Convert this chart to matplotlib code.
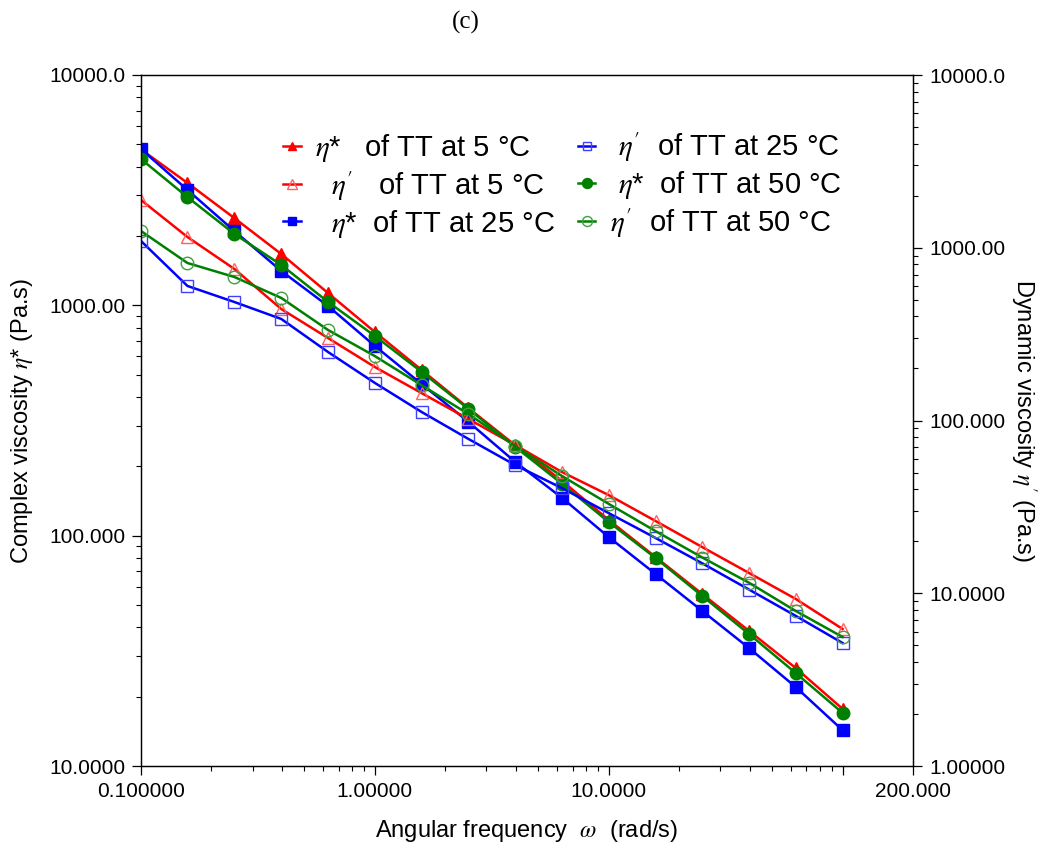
import matplotlib
matplotlib.use("Agg")
import matplotlib.pyplot as plt
from matplotlib.ticker import FixedLocator, FixedFormatter, NullFormatter
import numpy as np

plt.rcParams['font.family'] = ['Liberation Sans', 'DejaVu Sans']
plt.rcParams['mathtext.fontset'] = 'stix'

# Angular frequency (rad/s)
freq = [0.1, 0.158, 0.251, 0.398, 0.631, 1.0, 1.585, 2.512, 3.981, 6.31,
        10.0, 15.85, 25.12, 39.81, 63.1, 100.0]

# Complex viscosity eta* (Pa.s) - left axis
eta_star_5 = [4750, 3400, 2390, 1670, 1130, 766, 524, 358, 247, 173,
              117, 80.8, 55.8, 38.6, 26.6, 17.7]
eta_star_25 = [4770, 3170, 2100, 1410, 993, 666, 455, 312, 209, 146,
               98.6, 68.2, 47.1, 32.5, 22.0, 14.3]
eta_star_50 = [4315, 2950, 2040, 1497, 1034, 736, 514, 355, 243, 168,
               114.6, 80.0, 54.7, 37.4, 25.3, 17.0]

# Dynamic viscosity eta' (Pa.s) - right axis
eta_p_5 = [1890, 1154, 753, 442, 300, 204, 144, 102, 72.1, 50.3,
           37.0, 26.2, 18.5, 13.1, 9.26, 6.21]
eta_p_25 = [1094, 601, 485, 387, 249, 165, 112, 78.2, 55.2, 40.6,
            29.1, 20.9, 14.9, 10.5, 7.39, 5.15]
eta_p_50 = [1250, 816, 677, 512, 334, 236, 160, 109, 71.2, 47.7,
            32.9, 22.9, 16.1, 11.5, 7.89, 5.58]

x_major = [0.1, 1, 10, 100, 200]
x_major_labels = ['0.100000', '1.00000', '10.0000', '', '200.000']
yl_major = [10, 100, 1000, 10000]
yl_labels = ['10.0000', '100.000', '1000.00', '10000.0']
yr_major = [1, 10, 100, 1000, 10000]
yr_labels = ['1.00000', '10.0000', '100.000', '1000.00', '10000.0']

RED, BLUE, GREEN = '#ff0000', '#0000ff', '#008000'

fig = plt.figure(figsize=(10.48, 8.48), dpi=100)
ax = fig.add_axes([141/1048, 1-766/848, (913-141)/1048, (766-75)/848])
ax2 = ax.twinx()

lw = 1.8
h1, = ax.plot(freq, eta_star_5, color=RED, lw=lw, marker='^', ms=8, mec=RED, mfc=RED)
h3, = ax.plot(freq, eta_star_25, color=BLUE, lw=lw, marker='s', ms=8, mec=BLUE, mfc=BLUE)
h5, = ax.plot(freq, eta_star_50, color=GREEN, lw=lw, marker='o', ms=9, mec=GREEN, mfc=GREEN)

h2, = ax2.plot(freq, eta_p_5, color=RED, lw=lw, marker='^', ms=9, mfc='none',
               mec='#ff6060', mew=1.0)
h4, = ax2.plot(freq, eta_p_25, color=BLUE, lw=lw, marker='s', ms=8, mfc='none',
               mec='#4040ff', mew=1.0)
h6, = ax2.plot(freq, eta_p_50, color=GREEN, lw=lw, marker='o', ms=9, mfc='none',
               mec='#40a040', mew=1.0)

for a in (ax, ax2):
    a.set_xscale('log')
    a.set_yscale('log')
    a.set_xlim(0.1, 200)

ax.set_ylim(10, 10000)
ax2.set_ylim(1, 10000)

minor_x = [m * d for d in (0.1, 1, 10) for m in range(2, 10)]
ax.xaxis.set_major_locator(FixedLocator(x_major))
ax.xaxis.set_major_formatter(FixedFormatter(x_major_labels))
ax.xaxis.set_minor_locator(FixedLocator(minor_x))
ax.xaxis.set_minor_formatter(NullFormatter())

minor_yl = [m * d for d in (10, 100, 1000) for m in range(2, 10)]
ax.yaxis.set_major_locator(FixedLocator(yl_major))
ax.yaxis.set_major_formatter(FixedFormatter(yl_labels))
ax.yaxis.set_minor_locator(FixedLocator(minor_yl))
ax.yaxis.set_minor_formatter(NullFormatter())

minor_yr = [m * d for d in (1, 10, 100, 1000) for m in range(2, 10)]
ax2.yaxis.set_major_locator(FixedLocator(yr_major))
ax2.yaxis.set_major_formatter(FixedFormatter(yr_labels))
ax2.yaxis.set_minor_locator(FixedLocator(minor_yr))
ax2.yaxis.set_minor_formatter(NullFormatter())

for a in (ax, ax2):
    a.tick_params(which='major', direction='out', length=6.5, width=0.9, labelsize=15, pad=5)
    a.tick_params(which='minor', direction='out', length=3.6, width=0.8)
    for s in a.spines.values():
        s.set_linewidth(0.9)

ax.set_xlabel(r'Angular frequency  $\omega$  (rad/s)', fontsize=17, labelpad=12)
ax.set_ylabel(r'Complex viscosity $\eta$* (Pa.s)', fontsize=17, labelpad=10)
ax2.set_ylabel(r"Dynamic viscosity $\eta^{\prime}$ (Pa.s)", fontsize=17, rotation=270, labelpad=24)

fig.text(466/1048, 1-22/848, '(c)', ha='center', va='center',
         fontsize=18, family='Liberation Serif')

handles = [h1, h2, h3, h4, h5, h6]
labels = [r'$\eta$*   of TT at 5 °C',
          r"  $\eta^{\prime}$   of TT at 5 °C",
          r'  $\eta$*  of TT at 25 °C',
          r" $\eta^{\prime}$  of TT at 25 °C",
          r' $\eta$*  of TT at 50 °C',
          r"$\eta^{\prime}$  of TT at 50 °C"]
leg = ax2.legend(handles, labels, ncol=2, loc='upper left', bbox_to_anchor=(0.184, 0.92),
                 frameon=False, fontsize=21, handlelength=0.6, handletextpad=0.5,
                 columnspacing=0.78, labelspacing=0.17, borderaxespad=0, borderpad=0,
                 markerscale=0.8)

fig.savefig('out.png', dpi=100)
